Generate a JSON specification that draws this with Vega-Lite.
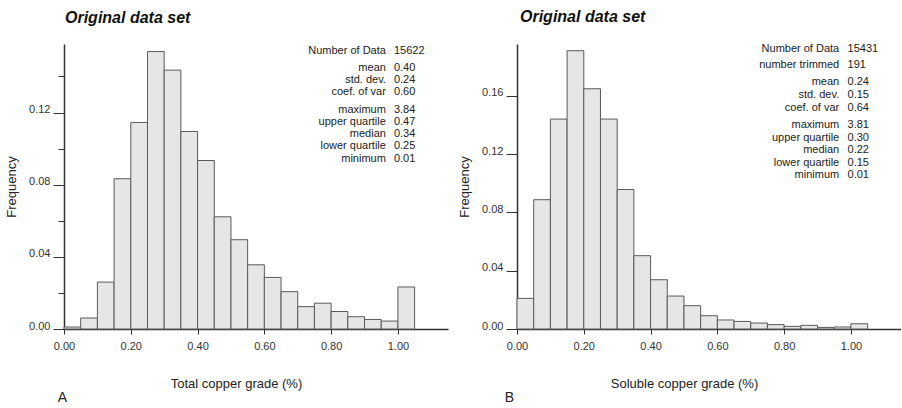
{
  "$schema": "https://vega.github.io/schema/vega-lite/v6.json",
  "padding": {"left": 5, "top": 8, "right": 0, "bottom": 0},
  "background": "white",
  "config": {
    "font": "Liberation Sans",
    "view": {"stroke": null},
    "axis": {
      "grid": false,
      "domainColor": "#333333",
      "domainWidth": 1.5,
      "tickColor": "#333333",
      "tickWidth": 1,
      "labelFontSize": 11,
      "labelColor": "#333333",
      "labelFlush": false,
      "labelOverlap": false,
      "labelBound": false,
      "titleFontSize": 13,
      "titleFontWeight": "normal",
      "titleColor": "#222222"
    },
    "title": {"fontSize": 16, "fontWeight": "bold", "fontStyle": "italic", "anchor": "start", "frame": "group", "color": "#111111", "offset": 18},
    "text": {"font": "Liberation Sans", "fontSize": 11, "color": "#222222"}
  },
  "datasets": {
    "total": [
      {"lo": 0.00, "hi": 0.05, "freq": 0.0011},
      {"lo": 0.05, "hi": 0.10, "freq": 0.0061},
      {"lo": 0.10, "hi": 0.15, "freq": 0.0260},
      {"lo": 0.15, "hi": 0.20, "freq": 0.0833},
      {"lo": 0.20, "hi": 0.25, "freq": 0.1145},
      {"lo": 0.25, "hi": 0.30, "freq": 0.1538},
      {"lo": 0.30, "hi": 0.35, "freq": 0.1435},
      {"lo": 0.35, "hi": 0.40, "freq": 0.1095},
      {"lo": 0.40, "hi": 0.45, "freq": 0.0934},
      {"lo": 0.45, "hi": 0.50, "freq": 0.0622},
      {"lo": 0.50, "hi": 0.55, "freq": 0.0495},
      {"lo": 0.55, "hi": 0.60, "freq": 0.0356},
      {"lo": 0.60, "hi": 0.65, "freq": 0.0286},
      {"lo": 0.65, "hi": 0.70, "freq": 0.0207},
      {"lo": 0.70, "hi": 0.75, "freq": 0.0124},
      {"lo": 0.75, "hi": 0.80, "freq": 0.0143},
      {"lo": 0.80, "hi": 0.85, "freq": 0.0097},
      {"lo": 0.85, "hi": 0.90, "freq": 0.0068},
      {"lo": 0.90, "hi": 0.95, "freq": 0.0053},
      {"lo": 0.95, "hi": 1.00, "freq": 0.0044},
      {"lo": 1.00, "hi": 1.05, "freq": 0.0233}
    ],
    "soluble": [
      {"lo": 0.00, "hi": 0.05, "freq": 0.0210},
      {"lo": 0.05, "hi": 0.10, "freq": 0.0887},
      {"lo": 0.10, "hi": 0.15, "freq": 0.1440},
      {"lo": 0.15, "hi": 0.20, "freq": 0.1909},
      {"lo": 0.20, "hi": 0.25, "freq": 0.1648},
      {"lo": 0.25, "hi": 0.30, "freq": 0.1440},
      {"lo": 0.30, "hi": 0.35, "freq": 0.0957},
      {"lo": 0.35, "hi": 0.40, "freq": 0.0503},
      {"lo": 0.40, "hi": 0.45, "freq": 0.0338},
      {"lo": 0.45, "hi": 0.50, "freq": 0.0226},
      {"lo": 0.50, "hi": 0.55, "freq": 0.0160},
      {"lo": 0.55, "hi": 0.60, "freq": 0.0091},
      {"lo": 0.60, "hi": 0.65, "freq": 0.0062},
      {"lo": 0.65, "hi": 0.70, "freq": 0.0052},
      {"lo": 0.70, "hi": 0.75, "freq": 0.0041},
      {"lo": 0.75, "hi": 0.80, "freq": 0.0030},
      {"lo": 0.80, "hi": 0.85, "freq": 0.0018},
      {"lo": 0.85, "hi": 0.90, "freq": 0.0025},
      {"lo": 0.90, "hi": 0.95, "freq": 0.0011},
      {"lo": 0.95, "hi": 1.00, "freq": 0.0014},
      {"lo": 1.00, "hi": 1.05, "freq": 0.0036}
    ]
  },
  "spacing": 10,
  "hconcat": [
    {
      "width": 384,
      "height": 285,
      "title": {"text": "Original data set", "dx": 1},
      "layer": [
        {
          "data": {"name": "total"},
          "mark": {"type": "bar", "fill": "#e6e6e6", "stroke": "#5a5a5a", "strokeWidth": 1},
          "encoding": {
            "x": {
              "field": "lo", "type": "quantitative",
              "scale": {"domain": [0, 1.15], "nice": false, "zero": false},
              "axis": {
                "title": "Total copper grade (%)",
                "values": [0, 0.05, 0.1, 0.15, 0.2, 0.25, 0.3, 0.35, 0.4, 0.45, 0.5, 0.55, 0.6, 0.65, 0.7, 0.75, 0.8, 0.85, 0.9, 0.95, 1.0, 1.05, 1.1, 1.15],
                "labelExpr": "round(datum.value*100) % 20 == 0 ? format(datum.value, '.2f') : ''",
                "tickSize": 5,
                "labelPadding": 6,
                "titlePadding": 26,
                "titleX": 172
              }
            },
            "x2": {"field": "hi"},
            "y": {
              "field": "freq", "type": "quantitative",
              "scale": {"domain": [0, 0.158], "nice": false},
              "axis": {
                "title": "Frequency",
                "values": [0, 0.01, 0.02, 0.03, 0.04, 0.05, 0.06, 0.07, 0.08, 0.09, 0.1, 0.11, 0.12, 0.13, 0.14, 0.15],
                "labelExpr": "round(datum.value*100) % 4 == 0 ? format(datum.value, '.2f') : ''",
                "tickSize": {"condition": {"test": "round(datum.value*100) % 4 == 0", "value": 11}, "value": 6},
                "labelBaseline": "alphabetic",
                "labelPadding": 3,
                "titlePadding": 10
              }
            },
            "y2": {"datum": 0}
          }
        },
        {"data": {"values": [{}]}, "mark": {"type": "text", "align": "right", "baseline": "top", "text": ["Number of Data"]}, "encoding": {"x": {"datum": 0.964}, "y": {"datum": 0.1577}}},
        {"data": {"values": [{}]}, "mark": {"type": "text", "align": "left", "baseline": "top", "text": ["15622"]}, "encoding": {"x": {"datum": 0.988}, "y": {"datum": 0.1577}}},
        {"data": {"values": [{}]}, "mark": {"type": "text", "align": "right", "baseline": "top", "lineHeight": 11.8, "text": ["mean", "std. dev.", "coef. of var"]}, "encoding": {"x": {"datum": 0.964}, "y": {"datum": 0.148}}},
        {"data": {"values": [{}]}, "mark": {"type": "text", "align": "left", "baseline": "top", "lineHeight": 11.8, "text": ["0.40", "0.24", "0.60"]}, "encoding": {"x": {"datum": 0.988}, "y": {"datum": 0.148}}},
        {"data": {"values": [{}]}, "mark": {"type": "text", "align": "right", "baseline": "top", "lineHeight": 12.3, "text": ["maximum", "upper quartile", "median", "lower quartile", "minimum"]}, "encoding": {"x": {"datum": 0.964}, "y": {"datum": 0.125}}},
        {"data": {"values": [{}]}, "mark": {"type": "text", "align": "left", "baseline": "top", "lineHeight": 12.3, "text": ["3.84", "0.47", "0.34", "0.25", "0.01"]}, "encoding": {"x": {"datum": 0.988}, "y": {"datum": 0.125}}},
        {"data": {"values": [{}]}, "mark": {"type": "text", "align": "center", "baseline": "middle", "fontSize": 14, "text": "A"}, "encoding": {"x": {"datum": -0.005}, "y": {"datum": -0.0383}}}
      ]
    },
    {
      "width": 384,
      "height": 285,
      "title": {"text": "Original data set", "dx": 3},
      "layer": [
        {
          "data": {"name": "soluble"},
          "mark": {"type": "bar", "fill": "#e6e6e6", "stroke": "#5a5a5a", "strokeWidth": 1},
          "encoding": {
            "x": {
              "field": "lo", "type": "quantitative",
              "scale": {"domain": [0, 1.15], "nice": false, "zero": false},
              "axis": {
                "title": "Soluble copper grade (%)",
                "values": [0, 0.05, 0.1, 0.15, 0.2, 0.25, 0.3, 0.35, 0.4, 0.45, 0.5, 0.55, 0.6, 0.65, 0.7, 0.75, 0.8, 0.85, 0.9, 0.95, 1.0, 1.05, 1.1, 1.15],
                "labelExpr": "round(datum.value*100) % 20 == 0 ? format(datum.value, '.2f') : ''",
                "tickSize": 5,
                "labelPadding": 6,
                "titlePadding": 26,
                "titleX": 167
              }
            },
            "x2": {"field": "hi"},
            "y": {
              "field": "freq", "type": "quantitative",
              "scale": {"domain": [0, 0.1955], "nice": false},
              "axis": {
                "title": "Frequency",
                "values": [0, 0.01, 0.02, 0.03, 0.04, 0.05, 0.06, 0.07, 0.08, 0.09, 0.1, 0.11, 0.12, 0.13, 0.14, 0.15, 0.16, 0.17, 0.18, 0.19],
                "labelExpr": "round(datum.value*100) % 4 == 0 ? format(datum.value, '.2f') : ''",
                "tickSize": {"condition": {"test": "round(datum.value*100) % 4 == 0", "value": 11}, "value": 6},
                "labelBaseline": "alphabetic",
                "labelPadding": 3,
                "titlePadding": 10
              }
            },
            "y2": {"datum": 0}
          }
        },
        {"data": {"values": [{}]}, "mark": {"type": "text", "align": "right", "baseline": "top", "text": ["Number of Data"]}, "encoding": {"x": {"datum": 0.965}, "y": {"datum": 0.1962}}},
        {"data": {"values": [{}]}, "mark": {"type": "text", "align": "left", "baseline": "top", "text": ["15431"]}, "encoding": {"x": {"datum": 0.99}, "y": {"datum": 0.1962}}},
        {"data": {"values": [{}]}, "mark": {"type": "text", "align": "right", "baseline": "top", "text": ["number trimmed"]}, "encoding": {"x": {"datum": 0.965}, "y": {"datum": 0.185}}},
        {"data": {"values": [{}]}, "mark": {"type": "text", "align": "left", "baseline": "top", "text": ["191"]}, "encoding": {"x": {"datum": 0.99}, "y": {"datum": 0.185}}},
        {"data": {"values": [{}]}, "mark": {"type": "text", "align": "right", "baseline": "top", "lineHeight": 12.8, "text": ["mean", "std. dev.", "coef. of var"]}, "encoding": {"x": {"datum": 0.965}, "y": {"datum": 0.1734}}},
        {"data": {"values": [{}]}, "mark": {"type": "text", "align": "left", "baseline": "top", "lineHeight": 12.8, "text": ["0.24", "0.15", "0.64"]}, "encoding": {"x": {"datum": 0.99}, "y": {"datum": 0.1734}}},
        {"data": {"values": [{}]}, "mark": {"type": "text", "align": "right", "baseline": "top", "lineHeight": 12.5, "text": ["maximum", "upper quartile", "median", "lower quartile", "minimum"]}, "encoding": {"x": {"datum": 0.965}, "y": {"datum": 0.1439}}},
        {"data": {"values": [{}]}, "mark": {"type": "text", "align": "left", "baseline": "top", "lineHeight": 12.5, "text": ["3.81", "0.30", "0.22", "0.15", "0.01"]}, "encoding": {"x": {"datum": 0.99}, "y": {"datum": 0.1439}}},
        {"data": {"values": [{}]}, "mark": {"type": "text", "align": "center", "baseline": "middle", "fontSize": 14, "text": "B"}, "encoding": {"x": {"datum": -0.023}, "y": {"datum": -0.0473}}}
      ]
    }
  ]
}
